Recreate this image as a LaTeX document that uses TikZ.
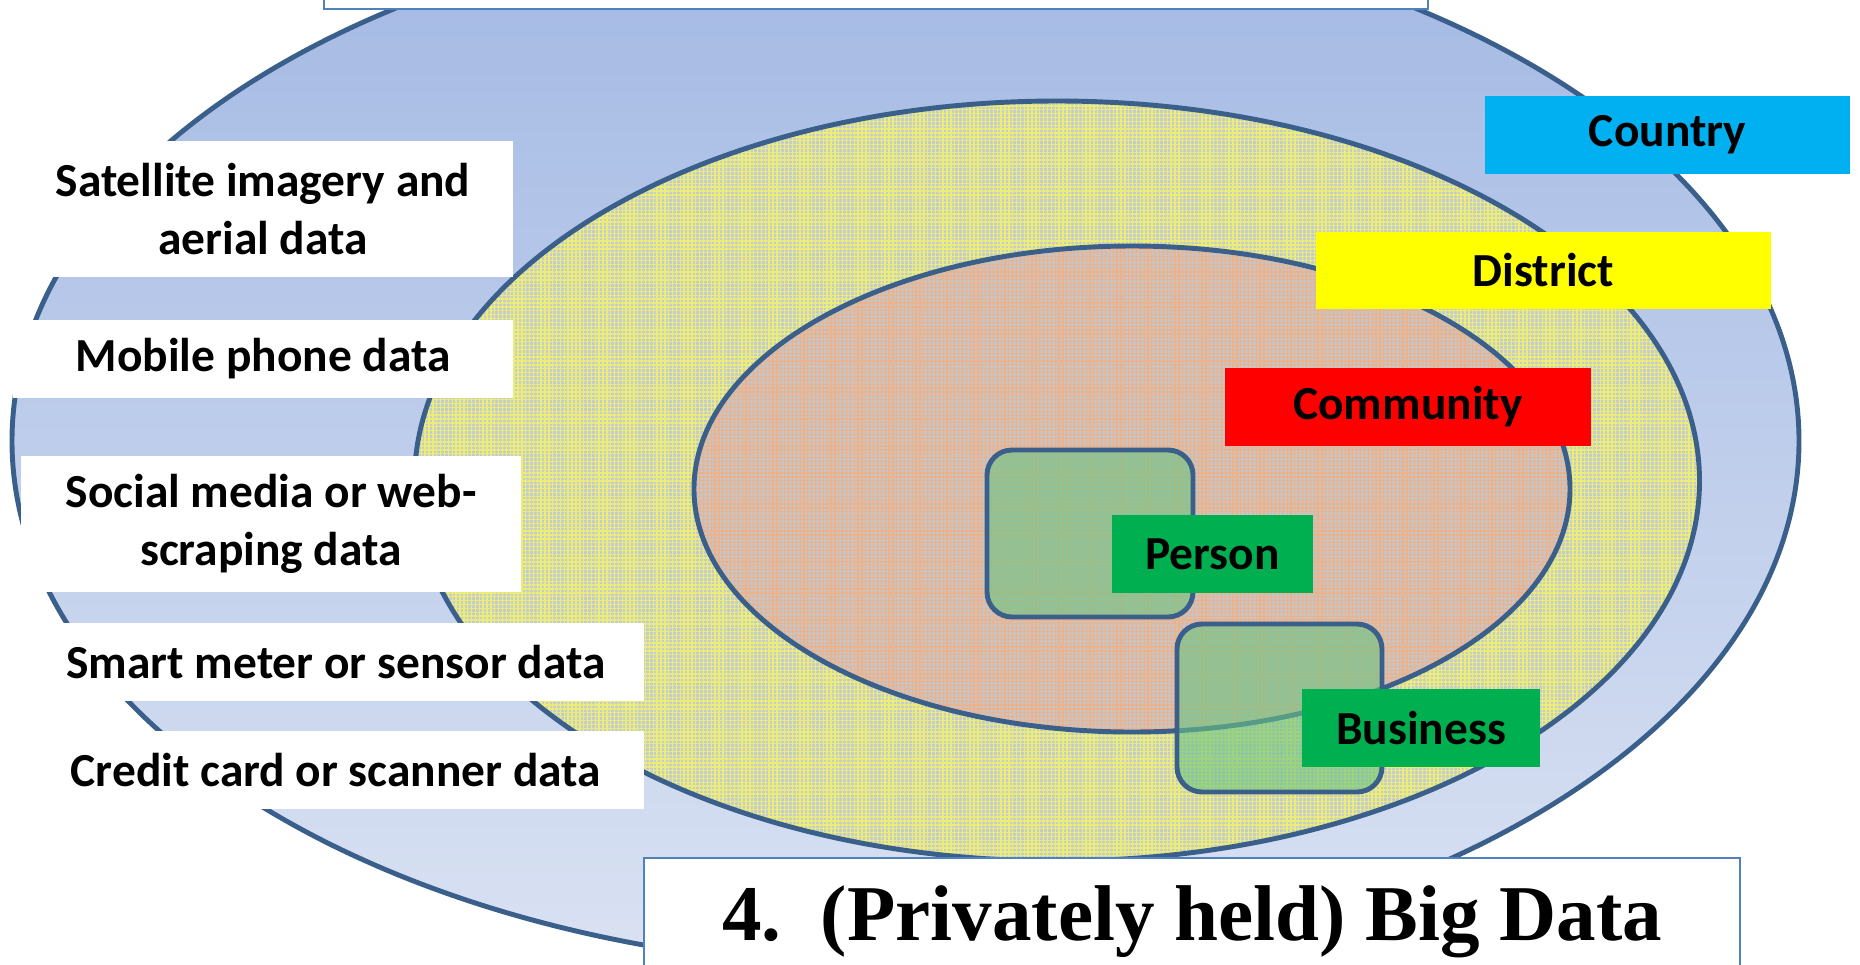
\documentclass[tikz,border=0pt]{standalone}
\usepackage{fontspec}
\setmainfont{Carlito}
\newfontfamily\titlefont{Liberation Serif}
\usetikzlibrary{patterns.meta}
\definecolor{edgeblue}{RGB}{58,95,139}
\definecolor{outertop}{RGB}{162,184,227}
\definecolor{outerbot}{RGB}{218,226,243}
\definecolor{midbase}{RGB}{196,204,205}
\definecolor{midyel}{RGB}{236,236,120}
\definecolor{innbase}{RGB}{200,196,196}
\definecolor{innor}{RGB}{236,178,140}
\definecolor{sqgreen}{RGB}{105,195,130}
\definecolor{cyanbox}{RGB}{0,176,240}
\definecolor{greenbox}{RGB}{0,176,80}
\definecolor{yellowbox}{RGB}{255,255,0}
\definecolor{redbox}{RGB}{255,0,0}
\definecolor{framebl}{RGB}{79,129,189}
\tikzset{
  ring/.style={draw=edgeblue, line width=2.8pt},
  srcbox/.style={fill=white, inner sep=0pt, align=center, text=black,
    font=\fontsize{27}{33}\selectfont\bfseries},
  levelbox/.style={inner sep=0pt, minimum height=1.56cm, text=black,
    font=\fontsize{27}{33}\selectfont\bfseries},
  unitsq/.style={draw=edgeblue, line width=2.8pt, rounded corners=0.5cm,
    fill=sqgreen, fill opacity=0.6},
  framebox/.style={draw=framebl, line width=1.1pt, fill=white}
}
\begin{document}
\begin{tikzpicture}[x=0.02cm, y=-0.02cm]
\useasboundingbox (0,0) rectangle (1860,964);
\clip (0,0) rectangle (1860,964);
% outer ellipse (Country)
\shade[top color=outertop, bottom color=outerbot] (905.5,441) ellipse [x radius=893.5, y radius=527];
\draw[ring] (905.5,441) ellipse [x radius=893.5, y radius=527];
% middle ellipse (District)
\fill[midbase] (1057,481) ellipse [x radius=642.5, y radius=380];
\fill[pattern={Lines[angle=0,distance=2.2pt,line width=0.8pt]}, pattern color=midyel] (1057,481) ellipse [x radius=642.5, y radius=380];
\fill[pattern={Lines[angle=90,distance=2.2pt,line width=0.8pt]}, pattern color=midyel] (1057,481) ellipse [x radius=642.5, y radius=380];
\draw[ring] (1057,481) ellipse [x radius=642.5, y radius=380];
% inner ellipse (Community)
\fill[innbase] (1132,489) ellipse [x radius=438, y radius=243];
\fill[pattern={Lines[angle=0,distance=2.2pt,line width=0.7pt]}, pattern color=innor] (1132,489) ellipse [x radius=438, y radius=243];
\fill[pattern={Lines[angle=90,distance=2.2pt,line width=0.7pt]}, pattern color=innor] (1132,489) ellipse [x radius=438, y radius=243];
\draw[ring] (1132,489) ellipse [x radius=438, y radius=243];
% person and business squares
\draw[unitsq] (987,450) rectangle (1193,617);
\draw[unitsq] (1177,624) rectangle (1382,792);
% top frame
\draw[framebox] (324,-10) rectangle (1428,9);
% data source boxes
\node[srcbox, minimum width=10cm, minimum height=2.72cm] (sat) at (263,209) {Satellite imagery and\\aerial data};
\node[srcbox, minimum width=10cm, minimum height=1.56cm] (mob) at (263,359) {Mobile phone data};
\node[srcbox, minimum width=10cm, minimum height=2.72cm] (soc) at (271,524) {Social media or web-\\scraping data};
\node[srcbox, minimum width=12.32cm, minimum height=1.56cm] (smart) at (336,662) {Smart meter or sensor data};
\node[srcbox, minimum width=12.32cm, minimum height=1.56cm] (credit) at (336,770) {Credit card or scanner data};
% level labels
\node[levelbox, fill=cyanbox, minimum width=7.3cm] (country) at (1667.5,135) {Country};
\node[levelbox, fill=yellowbox, minimum width=9.1cm] (district) at (1543.5,270.5) {District};
\node[levelbox, fill=redbox, minimum width=7.32cm] (community) at (1408,407) {Community};
\node[levelbox, fill=greenbox, minimum width=4.02cm] (person) at (1212.5,554) {Person};
\node[levelbox, fill=greenbox, minimum width=4.76cm] (business) at (1421,728) {Business};
% title frame
\draw[framebox] (644,858) rectangle (1740,980);
\node[anchor=base, inner sep=0pt, font=\titlefont\fontsize{45}{54}\selectfont\bfseries] (title) at (1192,940) {4.\ \ (Privately held) Big Data};
\end{tikzpicture}
\end{document}
